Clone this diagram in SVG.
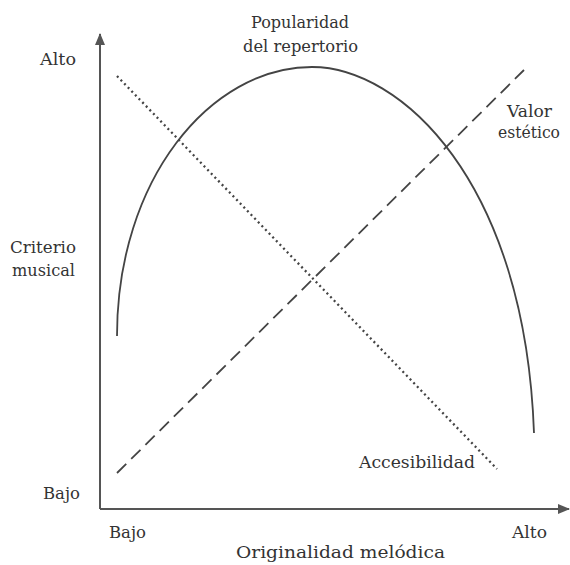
<svg xmlns="http://www.w3.org/2000/svg" width="570" height="565" viewBox="0 0 570 565">
<style>
  .lbl { font-family: 'DejaVu Serif', 'Liberation Serif', serif; font-size: 17.5px; fill: #333; }
  .axis { stroke: #555; stroke-width: 2; fill: none; }
  .curve { stroke: #444; stroke-width: 1.8; fill: none; }
  .dotted { stroke: #444; stroke-width: 2.3; fill: none; stroke-dasharray: 2 3.2; }
  .dashed { stroke: #444; stroke-width: 1.8; fill: none; stroke-dasharray: 13 7; }
</style>
<defs>
  <marker id="arrow" viewBox="0 0 12 10" refX="11" refY="5" markerWidth="12" markerHeight="10" markerUnits="userSpaceOnUse" orient="auto">
    <path d="M0,0 L12,5 L0,10 Z" fill="#555"/>
  </marker>
</defs>
<rect width="570" height="565" fill="#fff"/>
<g id="connectors">
  <path class="axis" d="M100,509 L100,34" marker-end="url(#arrow)"/>
  <path class="axis" d="M100,509 L569,509" marker-end="url(#arrow)"/>
  <path class="curve" d="M117,336 C117,180 210,67 312,67 C400,67 525,180 534,433"/>
  <path class="dotted" d="M117,76 L497,469"/>
  <path class="dashed" d="M117,473 L524,70"/>
</g>
<g id="y-axis-labels">
  <text class="lbl" x="40" y="65" textLength="36" lengthAdjust="spacingAndGlyphs">Alto</text>
  <text class="lbl" x="10" y="253" textLength="66" lengthAdjust="spacingAndGlyphs">Criterio</text>
  <text class="lbl" x="12" y="276" textLength="63" lengthAdjust="spacingAndGlyphs">musical</text>
  <text class="lbl" x="43" y="499" textLength="37" lengthAdjust="spacingAndGlyphs">Bajo</text>
</g>
<g id="x-axis-labels">
  <text class="lbl" x="109" y="538" textLength="37" lengthAdjust="spacingAndGlyphs">Bajo</text>
  <text class="lbl" x="512" y="538" textLength="35" lengthAdjust="spacingAndGlyphs">Alto</text>
  <text class="lbl" x="236" y="558" textLength="209" lengthAdjust="spacingAndGlyphs">Originalidad melódica</text>
</g>
<g id="popularidad">
  <text class="lbl" x="251" y="28" textLength="98" lengthAdjust="spacingAndGlyphs">Popularidad</text>
  <text class="lbl" x="243" y="52" textLength="115" lengthAdjust="spacingAndGlyphs">del repertorio</text>
</g>
<g id="valor">
  <text class="lbl" x="507" y="117" textLength="45" lengthAdjust="spacingAndGlyphs">Valor</text>
  <text class="lbl" x="498" y="138" textLength="62" lengthAdjust="spacingAndGlyphs">estético</text>
</g>
<g id="accesibilidad">
  <text class="lbl" x="359" y="468" textLength="116" lengthAdjust="spacingAndGlyphs">Accesibilidad</text>
</g>
</svg>
